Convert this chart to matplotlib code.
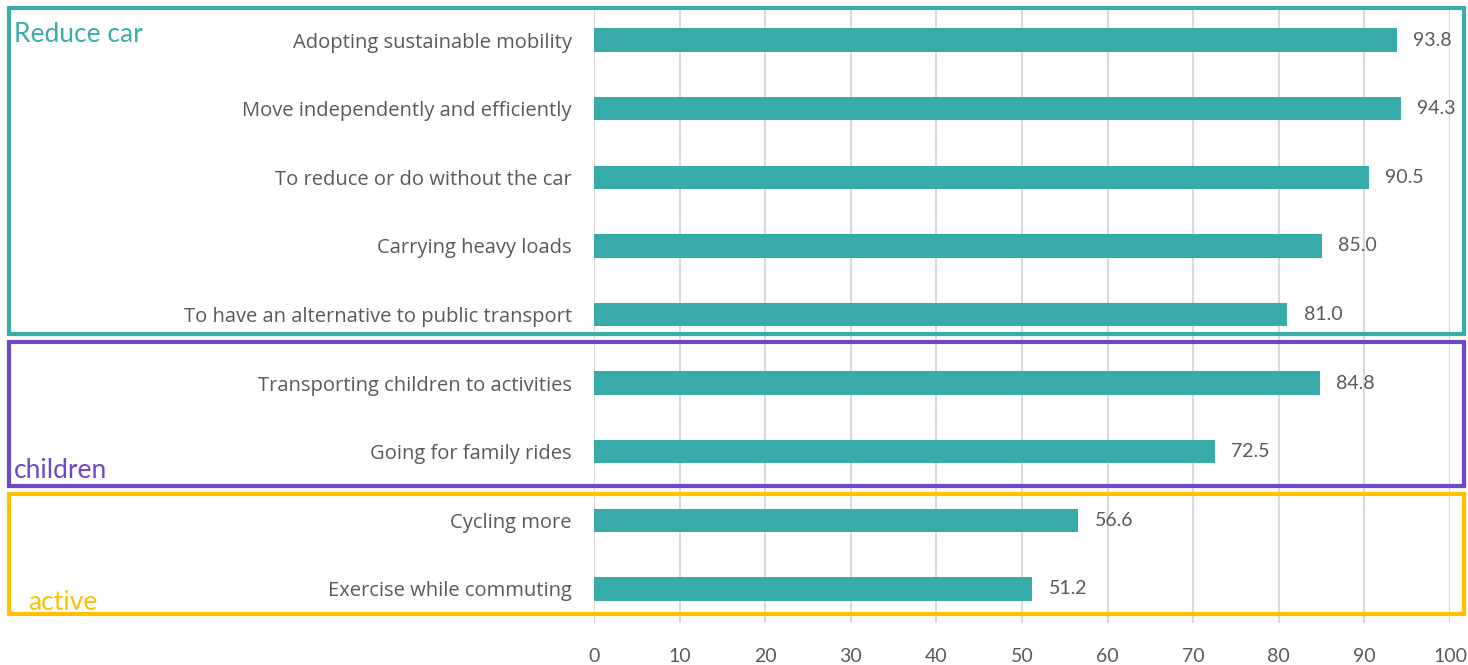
import matplotlib.pyplot as plt
from matplotlib.patches import Rectangle

# data
categories = ['Adopting sustainable mobility',
              'Move independently and efficiently',
              'To reduce or do without the car',
              'Carrying heavy loads',
              'To have an alternative to public transport',
              'Transporting children to activities',
              'Going for family rides',
              'Cycling more',
              'Exercise while commuting']
values = [93.8, 94.3, 90.5, 85.0, 81.0, 84.8, 72.5, 56.6, 51.2]
xticks = list(range(0, 101, 10))

groups = ['Reduce car', 'children', 'active']

W, H = 1468, 665
plt.rcParams['font.family'] = ['Lato', 'DejaVu Sans']

fig = plt.figure(figsize=(W / 100, H / 100), dpi=100)
ax = fig.add_axes([594 / W, 1 - 623.3 / H, 856 / W, 617.6 / H])

bar_color = '#36ABA9'
text_color = '#595959'
ypos = list(range(len(categories)))
ax.barh(ypos, values, height=0.34, color=bar_color, zorder=3)
for y, v in zip(ypos, values):
    ax.text(v + 1.9, y, '{:.1f}'.format(v), va='center', ha='left',
            fontsize=14, color=text_color)

ax.set_xlim(0, 100)
ax.set_ylim(len(categories) - 0.5, -0.5)
ax.set_xticks(xticks)
ax.set_yticks(ypos)
ax.set_yticklabels(categories, fontfamily=['Open Sans', 'DejaVu Sans'])
ax.tick_params(axis='y', length=0, pad=16, labelsize=14.5, labelcolor=text_color)
ax.tick_params(axis='x', length=0, pad=18, labelsize=14, labelcolor=text_color)
ax.grid(axis='x', color='#D9D9D9', linewidth=1.5, zorder=0)
for s in ax.spines.values():
    s.set_visible(False)

# group boxes, pixel coords (top, bottom)
boxes = [(8, 334, '#3AADA8'), (342, 486, '#6F47C8'), (494, 614, '#FFC000')]
label_pos = [(14, 35), (14, 470), (28, 603)]
for (top, bot, c), (lx, ly), name in zip(boxes, label_pos, groups):
    fig.patches.append(Rectangle((9 / W, 1 - bot / H), (1464 - 9) / W, (bot - top) / H,
                                 transform=fig.transFigure, fill=False,
                                 edgecolor=c, linewidth=3))
    fig.text(lx / W, 1 - ly / H, name, color=c, fontsize=19, ha='left', va='center')

fig.savefig('out.png', dpi=100)
